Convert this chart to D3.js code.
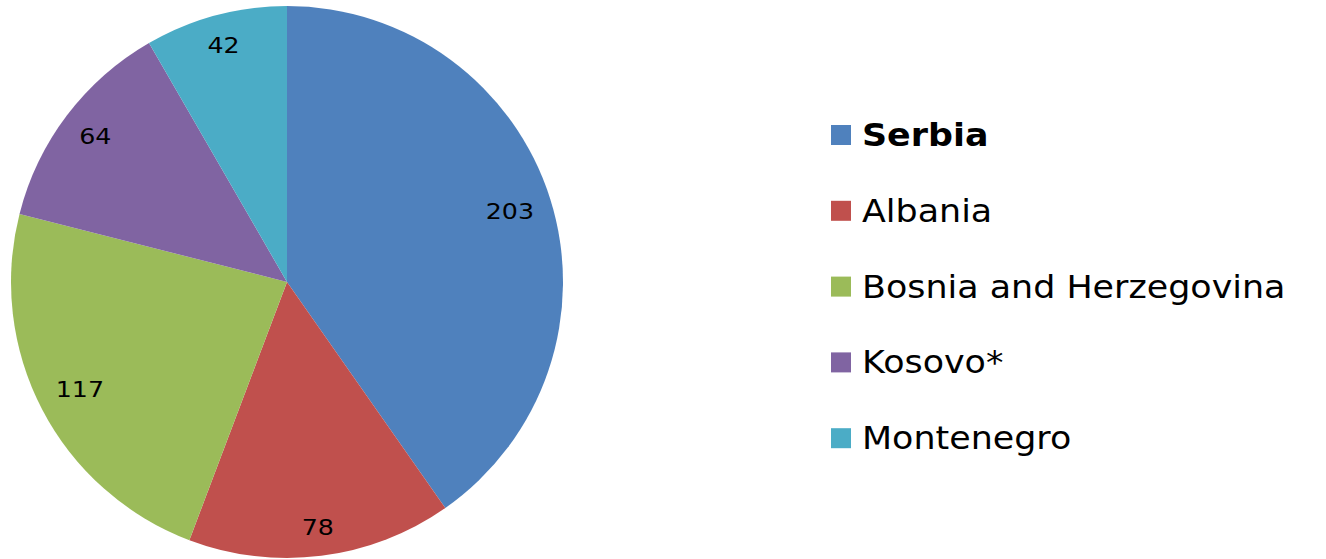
<!DOCTYPE html>
<html>
<head>
<meta charset="utf-8">
<script src="https://cdn.jsdelivr.net/npm/d3@7"></script>
<style>
  body { margin: 0; background: #fff; }
  svg { display: block; font-family: "DejaVu Sans", Verdana, sans-serif; }
</style>
</head>
<body>
<script>
// data
var countries = ["Serbia", "Albania", "Bosnia and Herzegovina", "Kosovo*", "Montenegro"];
var values = [203, 78, 117, 64, 42];
var colors = ["#4F81BD", "#C0504D", "#9BBB59", "#8064A2", "#4BACC6"];

var svgWidth = 1326, svgHeight = 559;
var cx = 287, cy = 282, radius = 276;

var svg = d3.select("body").append("svg")
  .attr("width", svgWidth)
  .attr("height", svgHeight);

var pie = d3.pie().sort(null).value(d => d.value);
var arc = d3.arc().innerRadius(0).outerRadius(radius);

var data = countries.map((c, i) => ({ name: c, value: values[i], color: colors[i] }));
var arcs = pie(data);

var g = svg.append("g").attr("transform", `translate(${cx},${cy})`);

g.selectAll("path")
  .data(arcs)
  .enter()
  .append("path")
  .attr("d", arc)
  .attr("fill", d => d.data.color);

// labels, "inside end" style
var stretch = 1.15;
var labels = g.selectAll("text.lbl")
  .data(arcs)
  .enter()
  .append("text")
  .attr("class", "lbl")
  .attr("font-size", "22px")
  .attr("fill", "#000")
  .attr("text-anchor", "middle")
  .attr("dominant-baseline", "central")
  .text(d => d.data.value);

labels.each(function(d) {
  var w = this.getBBox().width * stretch;
  var a = (d.startAngle + d.endAngle) / 2;
  var s = Math.sin(a), c = Math.cos(a);
  var dist = radius - 16 - (Math.abs(s) * w / 2 + Math.abs(c) * 11);
  d3.select(this)
    .attr("transform", `translate(${dist * s},${-dist * c}) scale(${stretch},1)`);
});

// legend
var legend = svg.append("g").attr("transform", "translate(831,135)");
var rowH = 75.8;

var items = legend.selectAll("g")
  .data(data)
  .enter()
  .append("g")
  .attr("transform", (d, i) => `translate(0,${i * rowH})`);

items.append("rect")
  .attr("x", 0)
  .attr("y", -10)
  .attr("width", 20)
  .attr("height", 20)
  .attr("fill", d => d.color);

// verdana is wider than dejavu, stretch a bit
items.append("text")
  .attr("transform", "translate(31,0) scale(1.09,1)")
  .attr("dominant-baseline", "central")
  .attr("font-size", "32px")
  .attr("font-weight", (d, i) => i === 0 ? "bold" : "normal")
  .attr("fill", "#000")
  .text(d => d.name);
</script>
</body>
</html>
